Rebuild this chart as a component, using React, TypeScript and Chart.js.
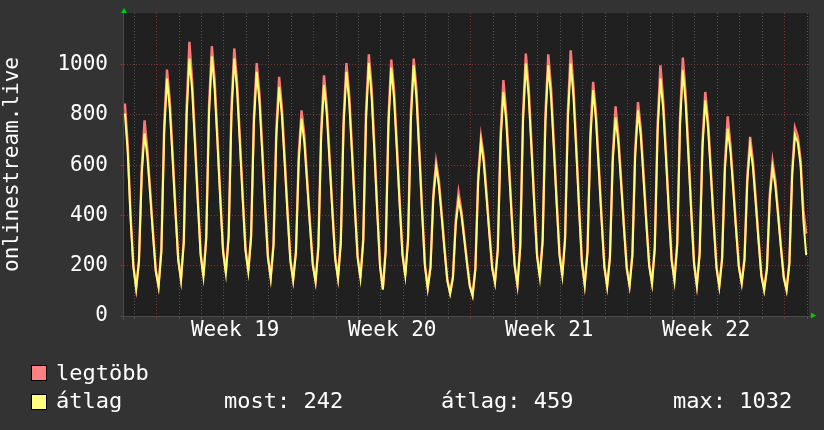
import React, { useEffect, useRef } from 'react';
import { Chart, registerables } from 'chart.js';

Chart.register(...registerables);

// ---- data (hours from left edge of the graph, sampled every 3 h) ----
const START_HOUR = 1;
const STEP_HOURS = 3;
const X_MAX_HOURS = 733;
const Y_MAX = 1205;

// "legtöbb" (maximum)
const MAX_SERIES = [
  845, 680, 405, 205, 113,
  222, 589, 778, 660, 501, 336, 184, 120,
  267, 758, 980, 857, 648, 432, 231, 146,
  304, 827, 1090, 930, 703, 468, 252, 159,
  316, 837, 1073, 939, 714, 482, 265, 173,
  327, 834, 1064, 933, 711, 483, 270, 179,
  322, 795, 1006, 882, 668, 445, 240, 153,
  290, 742, 951, 828, 627, 419, 228, 146,
  261, 643, 818, 716, 546, 371, 209, 140,
  280, 744, 957, 835, 634, 426, 235, 153,
  301, 787, 1006, 882, 668, 445, 240, 153,
  307, 814, 1041, 906, 672, 427, 203, 109,
  265, 788, 1020, 899, 682, 458, 251, 162,
  313, 810, 1024, 899, 668, 427, 206, 113,
  199, 486, 613, 538, 407, 270, 145, 93,
  158, 379, 491, 419, 320, 217, 123, 84,
  191, 554, 712, 632, 487, 335, 196, 136,
  271, 722, 938, 807, 606, 398, 207, 126,
  283, 806, 1044, 911, 690, 460, 246, 156,
  308, 808, 1041, 906, 687, 461, 252, 162,
  314, 815, 1057, 907, 677, 439, 218, 126,
  264, 724, 931, 812, 608, 397, 202, 120,
  239, 639, 834, 717, 542, 361, 193, 123,
  248, 661, 851, 744, 564, 378, 206, 133,
  279, 761, 997, 856, 647, 430, 229, 144,
  293, 789, 1028, 882, 659, 427, 213, 123,
  255, 693, 891, 777, 583, 383, 198, 120,
  232, 604, 794, 679, 519, 352, 199, 133,
  232, 557, 712, 616, 466, 310, 166, 106,
  192, 482, 615, 538, 411, 279, 157, 106,
  215, 581, 749,
  715, 620, 420, 328,
];

// "átlag" (average)
const AVG_SERIES = [
  806, 650, 390, 195, 109,
  214, 566, 726, 635, 482, 323, 177, 116,
  257, 729, 944, 824, 623, 415, 222, 142,
  292, 795, 1024, 894, 676, 450, 242, 155,
  304, 805, 1033, 903, 687, 463, 255, 169,
  314, 802, 1024, 897, 684, 464, 260, 175,
  310, 764, 971, 848, 642, 428, 231, 149,
  279, 713, 911, 796, 603, 403, 219, 142,
  251, 618, 785, 688, 525, 357, 201, 136,
  269, 715, 918, 803, 610, 410, 226, 149,
  289, 757, 971, 848, 642, 428, 231, 149,
  295, 783, 1006, 871, 646, 411, 195, 105,
  255, 758, 988, 864, 656, 440, 241, 158,
  301, 779, 997, 864, 642, 411, 198, 109,
  191, 467, 593, 517, 391, 260, 139, 89,
  152, 364, 460, 403, 308, 209, 118, 80,
  184, 533, 692, 608, 468, 322, 188, 132,
  261, 694, 891, 776, 583, 383, 199, 122,
  272, 775, 1004, 876, 663, 442, 237, 152,
  296, 777, 997, 871, 661, 443, 242, 158,
  302, 784, 1004, 872, 651, 422, 210, 122,
  254, 696, 898, 781, 585, 382, 194, 116,
  230, 614, 789, 689, 521, 347, 186, 119,
  238, 636, 818, 715, 542, 363, 198, 129,
  268, 732, 944, 823, 622, 413, 220, 140,
  282, 759, 977, 848, 634, 411, 205, 119,
  245, 666, 858, 747, 561, 368, 190, 116,
  223, 581, 745, 653, 499, 338, 191, 129,
  223, 536, 679, 592, 448, 298, 160, 102,
  185, 463, 590, 517, 395, 268, 151, 102,
  207, 559, 719,
  690, 600, 380, 242,
];

const Y_TICKS = [0, 100, 200, 300, 400, 500, 600, 700, 800, 900, 1000, 1100];
const Y_LABEL_STEP = 200;
const DAY_GRID_HOURS = [
  11, 35, 59, 83, 107, 131, 155, 179, 203, 227, 251, 275, 299, 323, 347, 371,
  395, 419, 443, 467, 491, 515, 539, 563, 587, 611, 635, 659, 683, 707, 731,
];
const WEEK_GRID_HOURS = [35, 203, 371, 539, 707];
const WEEK_LABEL_HOURS = [119, 287, 455, 623];
const WEEK_LABELS = ['Week 19', 'Week 20', 'Week 21', 'Week 22'];

const Y_TITLE = 'onlinestream.live';
const LEGEND_MAX = 'legtöbb';
const LEGEND_AVG = 'átlag';
const STAT_NOW = 'most: 242';
const STAT_AVG = 'átlag: 459';
const STAT_MAX = 'max: 1032';

const FONT = "'DejaVu Sans Mono', monospace";
const FONT_SIZE = 21;
const LEGEND_FONT_SIZE = 22;
const RED = '#ff7878';
const YELLOW = '#ffff70';
const GRID_MINOR = '#555555';
const GRID_MAJOR = '#7a3434';
const BG = '#333333';
const PLOT_BG = '#202020';

const toPoints = (arr: number[]) =>
  arr.map((v, i) => ({ x: START_HOUR + i * STEP_HOURS, y: v }));

const rrdPlugin = {
  id: 'rrdDecor',
  beforeDraw(chart: any) {
    const { ctx, chartArea: a } = chart;
    ctx.save();
    ctx.fillStyle = BG;
    ctx.fillRect(0, 0, chart.width, chart.height);
    ctx.fillStyle = PLOT_BG;
    ctx.fillRect(a.left, a.top, a.right - a.left, a.bottom - a.top);
    ctx.restore();
  },
  afterDraw(chart: any) {
    const { ctx, chartArea: a } = chart;
    ctx.save();
    ctx.strokeStyle = '#4a4a4a';
    ctx.lineWidth = 1;
    ctx.beginPath();
    ctx.moveTo(a.left - 4, a.bottom + 0.5);
    ctx.lineTo(a.right + 2, a.bottom + 0.5);
    ctx.moveTo(a.left - 0.5, a.top - 3);
    ctx.lineTo(a.left - 0.5, a.bottom + 4);
    ctx.stroke();
    ctx.fillStyle = '#00cc00';
    ctx.beginPath();
    ctx.moveTo(a.left - 3, a.top);
    ctx.lineTo(a.left + 3, a.top);
    ctx.lineTo(a.left, a.top - 5);
    ctx.closePath();
    ctx.fill();
    ctx.beginPath();
    ctx.moveTo(a.right + 2, a.bottom - 3.5);
    ctx.lineTo(a.right + 2, a.bottom + 2.5);
    ctx.lineTo(a.right + 7, a.bottom - 0.5);
    ctx.closePath();
    ctx.fill();
    ctx.restore();
  },
};

function ChartView() {
  const ref = useRef<HTMLCanvasElement | null>(null);
  useEffect(() => {
    if (!ref.current) return;
    const xTickValues = [...DAY_GRID_HOURS, ...WEEK_LABEL_HOURS].sort((p, q) => p - q);
    const chart = new Chart(ref.current, {
      type: 'line',
      data: {
        datasets: [
          {
            label: LEGEND_AVG,
            data: toPoints(AVG_SERIES),
            borderColor: YELLOW,
            borderWidth: 2,
            pointRadius: 0,
            tension: 0,
            fill: false,
          },
          {
            label: LEGEND_MAX,
            data: toPoints(MAX_SERIES),
            borderColor: RED,
            borderWidth: 2.4,
            pointRadius: 0,
            tension: 0,
            fill: false,
          },
        ],
      },
      options: {
        responsive: false,
        animation: false,
        events: [],
        layout: { padding: { top: 13, right: 15, bottom: 0, left: 0 } },
        plugins: { legend: { display: false }, tooltip: { enabled: false } },
        scales: {
          x: {
            type: 'linear',
            min: 0,
            max: X_MAX_HOURS,
            afterFit: (s: any) => {
              s.height = 114;
              s.paddingLeft = 0;
              s.paddingRight = 0;
            },
            afterBuildTicks: (s: any) => {
              s.ticks = xTickValues.map((v) => ({ value: v }));
            },
            grid: {
              color: (c: any) => {
                const v = c.tick ? c.tick.value : null;
                if (WEEK_GRID_HOURS.includes(v)) return GRID_MAJOR;
                if (DAY_GRID_HOURS.includes(v)) return GRID_MINOR;
                return 'rgba(0,0,0,0)';
              },
              lineWidth: 1,
              tickLength: 3,
            },
            border: { display: false, dash: [1, 2] },
            ticks: {
              autoSkip: false,
              maxRotation: 0,
              minRotation: 0,
              color: '#ffffff',
              font: { family: FONT, size: FONT_SIZE },
              padding: -1,
              callback: (v: any) => {
                const i = WEEK_LABEL_HOURS.indexOf(Number(v));
                return i >= 0 ? WEEK_LABELS[i] : '';
              },
            },
          },
          y: {
            min: 0,
            max: Y_MAX,
            afterFit: (s: any) => {
              s.width = 124;
              s.paddingTop = 0;
              s.paddingBottom = 0;
            },
            afterBuildTicks: (s: any) => {
              s.ticks = Y_TICKS.map((v) => ({ value: v }));
            },
            grid: {
              color: (c: any) => {
                const v = c.tick ? c.tick.value : 0;
                return v % Y_LABEL_STEP === 0 ? GRID_MAJOR : GRID_MINOR;
              },
              lineWidth: 1,
              tickLength: 4,
            },
            border: { display: false, dash: [1, 2] },
            ticks: {
              color: '#ffffff',
              font: { family: FONT, size: FONT_SIZE },
              padding: 12,
              callback: (v: any) => (Number(v) % Y_LABEL_STEP === 0 ? String(v) : ''),
            },
            title: {
              display: true,
              text: Y_TITLE,
              color: '#ffffff',
              font: { family: FONT, size: FONT_SIZE },
              padding: 0,
            },
          },
        },
      },
      plugins: [rrdPlugin],
    } as any);
    return () => chart.destroy();
  }, []);
  return (
    <canvas
      ref={ref}
      width={824}
      height={430}
      style={{ position: 'absolute', left: 0, top: 0, width: 824, height: 430 }}
    />
  );
}

const textStyle: React.CSSProperties = {
  position: 'absolute',
  fontFamily: FONT,
  fontSize: LEGEND_FONT_SIZE,
  lineHeight: '24px',
  color: '#ffffff',
  whiteSpace: 'pre',
};

const boxStyle = (color: string, top: number): React.CSSProperties => ({
  position: 'absolute',
  left: 31,
  top,
  width: 14,
  height: 14,
  background: color,
  border: '1px solid #000',
});

export default function App() {
  return (
    <div
      style={{
        position: 'fixed',
        left: 0,
        top: 0,
        width: 824,
        height: 430,
        background: BG,
        overflow: 'hidden',
      }}
    >
      <ChartView />
      <div style={boxStyle('#ff8080', 365)} />
      <div style={{ ...textStyle, left: 56, top: 361 }}>{LEGEND_MAX}</div>
      <div style={boxStyle('#ffff80', 394)} />
      <div style={{ ...textStyle, left: 56, top: 389 }}>{LEGEND_AVG}</div>
      <div style={{ ...textStyle, left: 224, top: 389 }}>{STAT_NOW}</div>
      <div style={{ ...textStyle, left: 441, top: 389 }}>{STAT_AVG}</div>
      <div style={{ ...textStyle, left: 673, top: 389 }}>{STAT_MAX}</div>
    </div>
  );
}
